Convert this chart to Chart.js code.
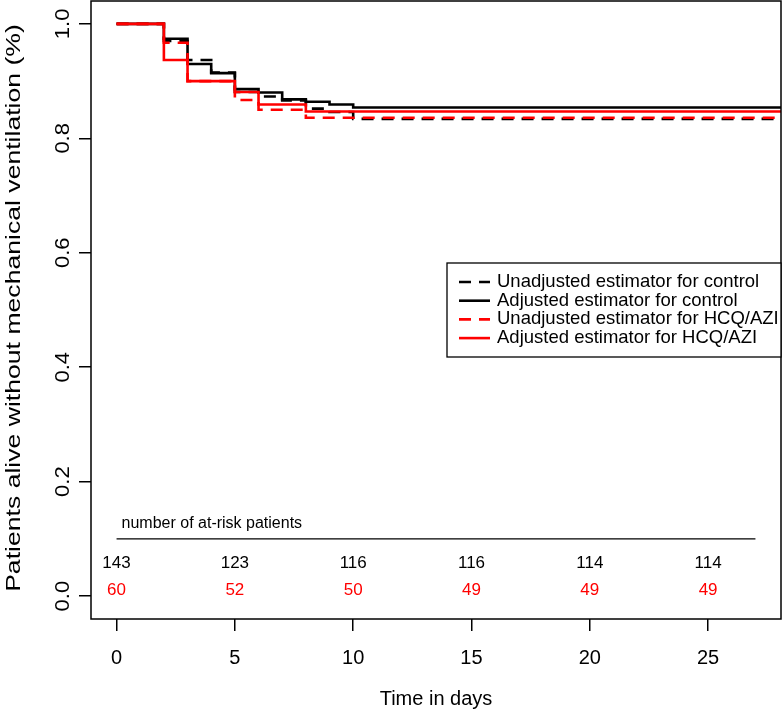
<!DOCTYPE html>
<html>
<head>
<meta charset="utf-8">
<script src="https://cdn.jsdelivr.net/npm/chart.js@4.4.0/dist/chart.umd.min.js"></script>
<style>
  body { margin: 0; background: #fff; }
  #wrap { width: 783px; height: 715px; position: relative; }
</style>
</head>
<body>
<div id="wrap"><canvas id="km"></canvas></div>
<script>
// survival curves (time in days, proportion alive without ventilation)
const endTime = 28.1;
const ctrlUnadjTimes = [0, 2, 3, 4, 5, 6, 7, 8, 9, 10];
const ctrlUnadjSurv  = [1, 0.970, 0.937, 0.915, 0.881, 0.873, 0.866, 0.852, 0.846, 0.834];
const ctrlAdjTimes   = [0, 2, 3, 4, 5, 6, 7, 8, 9, 10];
const ctrlAdjSurv    = [1, 0.974, 0.930, 0.914, 0.886, 0.880, 0.868, 0.864, 0.859, 0.854];
const hcqUnadjTimes  = [0, 2, 3, 5, 6, 8];
const hcqUnadjSurv   = [1, 0.967, 0.900, 0.867, 0.850, 0.836];
const hcqAdjTimes    = [0, 2, 3, 5, 6, 8];
const hcqAdjSurv     = [1, 0.937, 0.900, 0.881, 0.859, 0.847];

// number at risk table
const riskTimes   = [0, 5, 10, 15, 20, 25];
const riskControl = [143, 123, 116, 116, 114, 114];
const riskHcq     = [60, 52, 50, 49, 49, 49];
const riskLineX   = [0, 27];
const riskLineY   = 0.1;

const xTicks = [0, 5, 10, 15, 20, 25];
const yTicks = [0, 0.2, 0.4, 0.6, 0.8, 1.0];

const FONT = '"Liberation Sans", Arial, sans-serif';

function steps(times, surv) {
    const pts = times.map((t, i) => ({ x: t, y: surv[i] }));
    pts.push({ x: endTime, y: surv[surv.length - 1] });
    return pts;
}

const datasets = [
    { label: 'Unadjusted estimator for control', data: steps(ctrlUnadjTimes, ctrlUnadjSurv),
      borderColor: '#000000', borderDash: [12, 8], order: 4 },
    { label: 'Adjusted estimator for control', data: steps(ctrlAdjTimes, ctrlAdjSurv),
      borderColor: '#000000', borderDash: [], order: 3 },
    { label: 'Unadjusted estimator for HCQ/AZI', data: steps(hcqUnadjTimes, hcqUnadjSurv),
      borderColor: '#ff0000', borderDash: [12, 8], order: 2 },
    { label: 'Adjusted estimator for HCQ/AZI', data: steps(hcqAdjTimes, hcqAdjSurv),
      borderColor: '#ff0000', borderDash: [], order: 1 }
].map(d => Object.assign(d, { borderWidth: 2.6, stepped: 'before', pointRadius: 0, fill: false }));

const legendItems = datasets.slice();

// the horizontal rule of the at-risk table
datasets.push({
    label: 'risk-line',
    data: riskLineX.map(x => ({ x: x, y: riskLineY })),
    borderColor: '#000000', borderWidth: 1.4, pointRadius: 0, fill: false, order: 5
});

// text rotated to read bottom-to-top, stretched along its length
function vText(ctx, txt, x, y, stretch) {
    ctx.save();
    ctx.translate(x, y);
    ctx.rotate(-Math.PI / 2);
    ctx.scale(stretch, 1);
    ctx.fillText(txt, 0, 0);
    ctx.restore();
}

// everything R draws around the plot: box, labels, at-risk numbers, legend
const rPlot = {
    id: 'rPlot',
    afterDraw(chart) {
        const ctx = chart.ctx;
        const a = chart.chartArea;
        const xs = chart.scales.x, ys = chart.scales.y;
        ctx.save();

        ctx.strokeStyle = '#000';
        ctx.lineWidth = 1.5;
        ctx.strokeRect(a.left, a.top, a.right - a.left, a.bottom - a.top);

        ctx.fillStyle = '#000';
        ctx.font = '20px ' + FONT;
        ctx.textAlign = 'center';
        ctx.textBaseline = 'middle';
        xTicks.forEach(v => ctx.fillText(String(v), xs.getPixelForValue(v), 658));
        yTicks.forEach(v => vText(ctx, v.toFixed(1), 63, ys.getPixelForValue(v), 1.1));
        ctx.fillText('Time in days', (a.left + a.right) / 2, 699);
        vText(ctx, 'Patients alive without mechanical ventilation (%)', 14, 308, 1.33);

        // at-risk table
        ctx.font = '16px ' + FONT;
        ctx.textAlign = 'left';
        ctx.fillText('number of at-risk patients', xs.getPixelForValue(0) + 5, ys.getPixelForValue(0.127));
        ctx.textAlign = 'center';
        ctx.font = '17px ' + FONT;
        riskTimes.forEach((t, i) => {
            ctx.fillStyle = '#000';
            ctx.fillText(String(riskControl[i]), xs.getPixelForValue(t), ys.getPixelForValue(0.058));
            ctx.fillStyle = '#ff0000';
            ctx.fillText(String(riskHcq[i]), xs.getPixelForValue(t), ys.getPixelForValue(0.01));
        });

        // legend
        const lx = 447, ly = 263, lw = a.right - 447, lh = 94;
        ctx.fillStyle = '#fff';
        ctx.fillRect(lx, ly, lw, lh);
        ctx.strokeStyle = '#000';
        ctx.lineWidth = 1.3;
        ctx.strokeRect(lx, ly, lw, lh);
        ctx.textAlign = 'left';
        ctx.font = '18.5px ' + FONT;
        legendItems.forEach((d, i) => {
            const y = ly + 19 + i * 18.7;
            ctx.strokeStyle = d.borderColor;
            ctx.lineWidth = d.borderWidth;
            ctx.setLineDash(d.borderDash);
            ctx.beginPath();
            ctx.moveTo(lx + 12, y);
            ctx.lineTo(lx + 43, y);
            ctx.stroke();
            ctx.setLineDash([]);
            ctx.fillStyle = '#000';
            ctx.fillText(d.label, lx + 50, y);
        });
        ctx.restore();
    }
};

new Chart(document.getElementById('km'), {
    type: 'line',
    data: { datasets: datasets },
    plugins: [rPlot],
    options: {
        responsive: true,
        maintainAspectRatio: false,
        animation: false,
        layout: { padding: { top: 1, right: 2, left: 0, bottom: 0 } },
        plugins: { legend: { display: false }, tooltip: { enabled: false } },
        scales: {
            x: {
                type: 'linear', min: -1.08, max: 28.08,
                afterBuildTicks: s => { s.ticks = xTicks.map(v => ({ value: v })); },
                afterFit: s => { s.height = 96; },
                ticks: { display: false },
                border: { display: false },
                grid: { drawOnChartArea: false, drawTicks: true, tickLength: 12, color: '#000', lineWidth: 1.5 }
            },
            y: {
                type: 'linear', min: -0.04, max: 1.04,
                afterBuildTicks: s => { s.ticks = yTicks.map(v => ({ value: v })); },
                afterFit: s => { s.width = 91; },
                ticks: { display: false },
                border: { display: false },
                grid: { drawOnChartArea: false, drawTicks: true, tickLength: 12, color: '#000', lineWidth: 1.5 }
            }
        }
    }
});
</script>
</body>
</html>
